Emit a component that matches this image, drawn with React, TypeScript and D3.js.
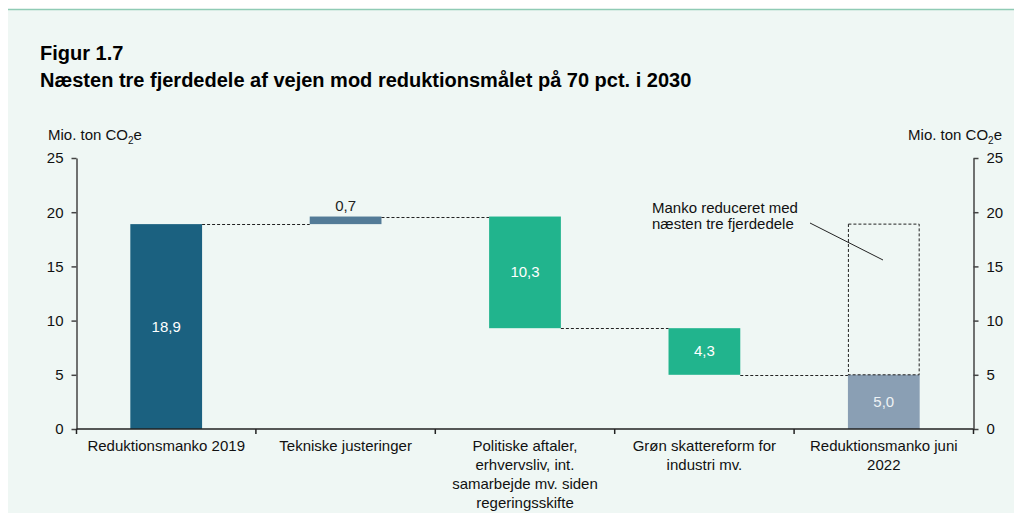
import React, { useRef, useEffect } from "react";
import * as d3 from "d3";

// chart data
const categories = [
  "Reduktionsmanko 2019",
  "Tekniske justeringer",
  "Politiske aftaler, erhvervsliv, int. samarbejde mv. siden regeringsskifte",
  "Grøn skattereform for industri mv.",
  "Reduktionsmanko juni 2022",
];
const categoryLines = [
  ["Reduktionsmanko 2019"],
  ["Tekniske justeringer"],
  ["Politiske aftaler,", "erhvervsliv, int.", "samarbejde mv. siden", "regeringsskifte"],
  ["Grøn skattereform for", "industri mv."],
  ["Reduktionsmanko juni", "2022"],
];
const barStart = [0, 18.9, 19.6, 9.3, 0];
const barEnd = [18.9, 19.6, 9.3, 5.0, 5.0];
const barLabels = ["18,9", "0,7", "10,3", "4,3", "5,0"];
const barColors = ["#1b6180", "#537b97", "#21b48d", "#21b48d", "#8a9fb4"];
const yTicks = [0, 5, 10, 15, 20, 25];
const ghostRange = [5.0, 18.9];

const App = () => {
  const svgRef = useRef<SVGSVGElement>(null);

  useEffect(() => {
    const width = 1014;
    const height = 513;
    const marginLeft = 76.5;
    const marginRight = 40.5;
    const y0 = 429;
    const yTop = 158;

    const svg = d3.select(svgRef.current);
    svg.selectAll("*").remove();

    // background + top rule
    svg.append("rect").attr("x", 8).attr("y", 9).attr("width", width - 8).attr("height", height - 9).attr("fill", "#eff7f4");
    svg.append("line").attr("x1", 8).attr("x2", width).attr("y1", 9.5).attr("y2", 9.5).attr("stroke", "#8fcbb5").attr("stroke-width", 1.5);

    svg.append("text").attr("x", 40).attr("y", 60).attr("font-size", 20).attr("font-weight", "bold").text("Figur 1.7");
    svg.append("text").attr("x", 40).attr("y", 87).attr("font-size", 20).attr("font-weight", "bold")
      .text("Næsten tre fjerdedele af vejen mod reduktionsmålet på 70 pct. i 2030");

    const x = d3.scaleBand().domain(categories).range([marginLeft, width - marginRight]).paddingInner(0).paddingOuter(0);
    const y = d3.scaleLinear().domain([0, 25]).range([y0, yTop]);
    const barW = x.bandwidth() * 0.4;
    const bx = (i: number) => x(categories[i])! + (x.bandwidth() - barW) / 2;

    // axis titles
    const unitTitle = (g: any, xPos: number, anchor: string) => {
      const t = g.append("text").attr("x", xPos).attr("y", 140).attr("font-size", 15).attr("text-anchor", anchor).attr("fill", "#111");
      t.append("tspan").text("Mio. ton CO");
      t.append("tspan").attr("font-size", 10).attr("dy", 4).text("2");
      t.append("tspan").attr("dy", -4).text("e");
    };
    unitTitle(svg, 48, "start");
    unitTitle(svg, 1002, "end");

    // bars
    svg.append("g").selectAll("rect").data(categories).join("rect")
      .attr("x", (d, i) => bx(i))
      .attr("width", barW)
      .attr("y", (d, i) => y(Math.max(barStart[i], barEnd[i])))
      .attr("height", (d, i) => Math.abs(y(barStart[i]) - y(barEnd[i])))
      .attr("fill", (d, i) => barColors[i]);

    // connectors
    const dash = svg.append("g").attr("stroke", "#222").attr("stroke-width", 1).attr("stroke-dasharray", "3,2").attr("fill", "none");
    for (let i = 0; i < categories.length - 1; i++) {
      const v = Math.round(barEnd[i] * 10) / 10;
      dash.append("line")
        .attr("x1", bx(i) + barW).attr("x2", bx(i + 1))
        .attr("y1", Math.round(y(v)) + 0.5).attr("y2", Math.round(y(v)) + 0.5);
    }
    // ghost box
    const gi = categories.length - 1;
    dash.append("rect")
      .attr("x", bx(gi) + 0.5).attr("width", barW - 1)
      .attr("y", y(ghostRange[1])).attr("height", y(ghostRange[0]) - y(ghostRange[1]));

    // bar labels
    svg.append("g").selectAll("text").data(barLabels).join("text")
      .attr("x", (d, i) => bx(i) + barW / 2)
      .attr("y", (d, i) => i === 1 ? y(barEnd[i]) - 6 : (y(barStart[i]) + y(barEnd[i])) / 2 + 5)
      .attr("text-anchor", "middle")
      .attr("font-size", 15)
      .attr("fill", (d, i) => i === 1 ? "#222" : i === 4 ? "#eef2f5" : "#fff")
      .text(d => d);

    // axes
    const axisStyle = (g: any) => {
      g.selectAll("path, line").attr("stroke", "#444").attr("stroke-width", 1.5);
      g.selectAll("text").attr("font-size", 15).attr("fill", "#111").attr("font-family", "Liberation Sans, Arial, sans-serif");
    };
    svg.append("g").attr("transform", `translate(${marginLeft},0)`)
      .call(d3.axisLeft(y).tickValues(yTicks).tickSize(5).tickPadding(8).tickSizeOuter(0))
      .call(axisStyle);
    svg.append("g").attr("transform", `translate(${width - marginRight},0)`)
      .call(d3.axisRight(y).tickValues(yTicks).tickSize(5).tickPadding(8).tickSizeOuter(0))
      .call(axisStyle);

    const xAxis = svg.append("g").attr("transform", `translate(0,${y0})`);
    xAxis.append("line").attr("x1", marginLeft).attr("x2", width - marginRight).attr("stroke", "#222").attr("stroke-width", 1.5);
    const bounds = categories.map(c => x(c)!).concat([width - marginRight]);
    xAxis.selectAll("line.tick").data(bounds).join("line").attr("class", "tick")
      .attr("x1", d => d).attr("x2", d => d).attr("y1", 0).attr("y2", 5)
      .attr("stroke", "#222").attr("stroke-width", 1.5);
    categoryLines.forEach((lines, i) => {
      const t = xAxis.append("text").attr("text-anchor", "middle").attr("font-size", 15).attr("fill", "#111");
      lines.forEach((ln, k) => {
        t.append("tspan").attr("x", x(categories[i])! + x.bandwidth() / 2).attr("y", 22 + k * 19).text(ln);
      });
    });

    // annotation
    const ann = svg.append("text").attr("font-size", 15).attr("fill", "#111");
    ann.append("tspan").attr("x", 652).attr("y", 213).text("Manko reduceret med");
    ann.append("tspan").attr("x", 652).attr("y", 229).text("næsten tre fjerdedele");
    svg.append("line").attr("x1", 810).attr("y1", 223).attr("x2", 883).attr("y2", 260).attr("stroke", "#222").attr("stroke-width", 1);
  }, []);

  return (
    <svg
      ref={svgRef}
      width={1014}
      height={513}
      style={{ position: "absolute", left: 0, top: 0, fontFamily: "Liberation Sans, Arial, sans-serif" }}
    />
  );
};

export default App;
